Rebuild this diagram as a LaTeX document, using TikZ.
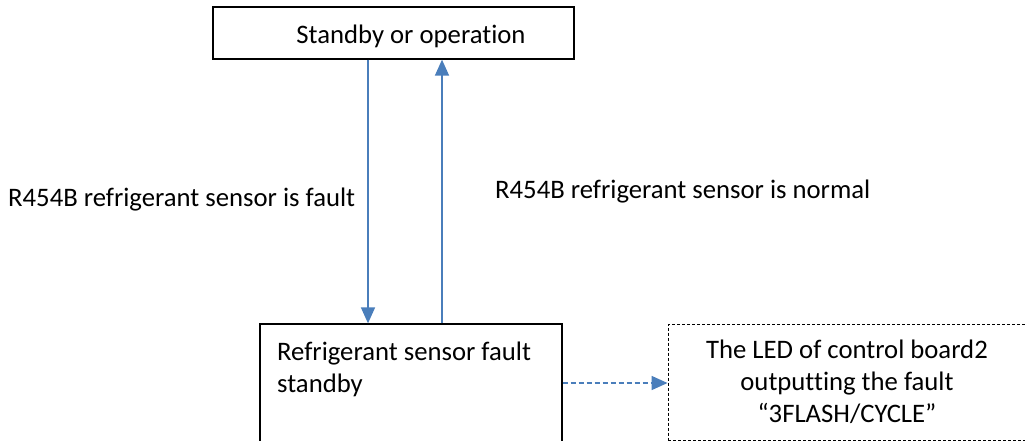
\documentclass[tikz,border=0pt]{standalone}
\usepackage{fontspec}
\setmainfont{Carlito}[Ligatures=NoCommon]
\usetikzlibrary{arrows.meta,calc}
\definecolor{flowblue}{HTML}{4A7EBB}
\tikzset{
  boxstyle/.style={draw=black,line width=1.3pt,rectangle,inner sep=0pt},
  dashbox/.style={draw=black,line width=0.9pt,dash pattern=on 3pt off 2pt,rectangle,inner sep=0pt},
  flow/.style={draw=flowblue,line width=1.6pt,-{Triangle[length=16pt,width=14pt]}},
  dflow/.style={draw=flowblue,line width=1.6pt,dash pattern=on 5pt off 3pt,-{Triangle[length=16pt,width=14pt]}},
  lbl/.style={inner sep=0pt,font=\fontsize{26.7}{32}\selectfont}
}
\begin{document}
\begin{tikzpicture}[x=1pt,y=-1pt]
\useasboundingbox (0,0) rectangle (1025,440);
\clip (0,0) rectangle (1025,440);
% boxes
\node[boxstyle,minimum width=361pt,minimum height=52pt] (top) at (393.5,33) {};
\node[boxstyle,minimum width=302pt,minimum height=118pt] (fault) at (411,383) {};
\node[dashbox,minimum width=380pt,minimum height=116.5pt] (led) at (858,382.25) {};
% texts (base anchor = baseline of last line)
\node[lbl,anchor=base] (toptxt) at (411,43) {Standby or operation};
\node[lbl,anchor=base west,align=left] (faulttxt) at (277,392) {Refrigerant sensor fault\\standby};
\node[lbl,anchor=base,align=center] (ledtxt) at (847,422) {The LED of control board2\\outputting the fault\\“3FLASH/CYCLE”};
\node[lbl,anchor=base west] (l1) at (8,206) {R454B refrigerant sensor is fault};
\node[lbl,anchor=base west] (l2) at (495,198) {R454B refrigerant sensor is normal};
% connectors
\draw[flow] ([xshift=-25.5pt]top.south) -- ([xshift=-43pt]fault.north);
\draw[flow] ([xshift=31pt]fault.north) -- ([xshift=48.5pt]top.south);
\draw[dflow] (fault.east) -- (fault.east -| led.west);
\end{tikzpicture}
\end{document}
